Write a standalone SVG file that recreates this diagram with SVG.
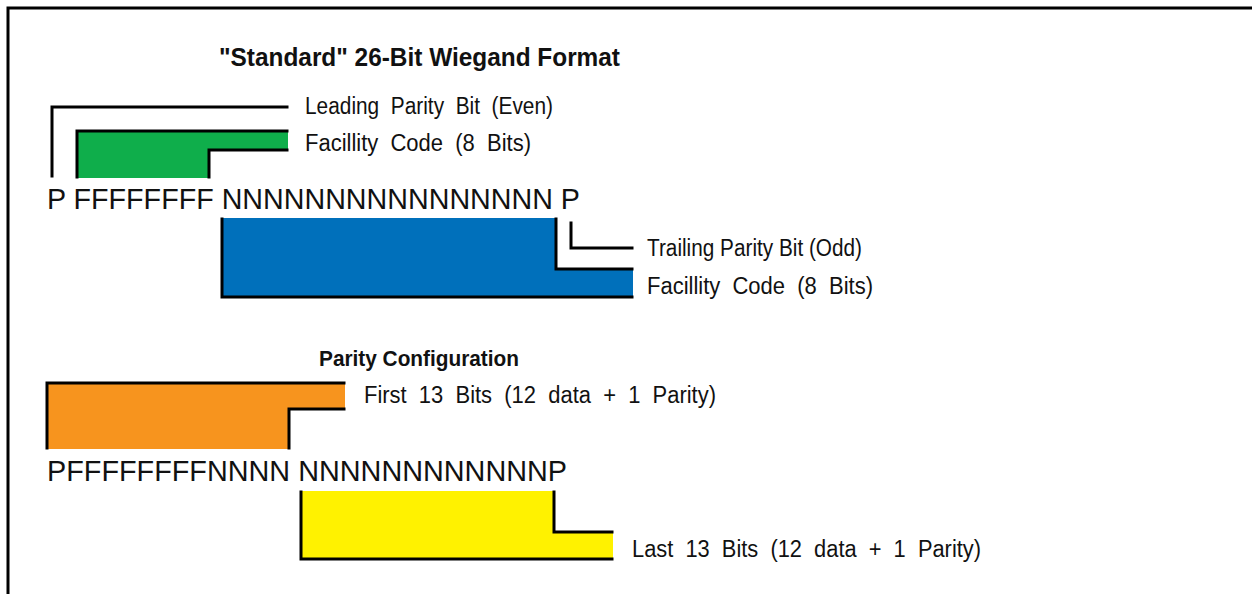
<svg xmlns="http://www.w3.org/2000/svg" width="1252" height="594" viewBox="0 0 1252 594">
<style>
.cond{font-family:"Liberation Sans",Arial,sans-serif;fill:#111;white-space:pre;}
.b{font-weight:bold;}
.bits{font-family:"Liberation Sans",Arial,sans-serif;font-size:29px;fill:#111;white-space:pre;}
.lbl{font-size:23px;}
.ln{fill:none;stroke:#000;stroke-width:3;stroke-linecap:square;}
</style>
<rect x="0" y="0" width="1252" height="594" fill="#fff"/>
<g id="frame"><path class="ln" d="M8,594 V8 H1252"/></g>
<g id="title"><text class="cond b" x="219" y="66" font-size="26" textLength="401" lengthAdjust="spacingAndGlyphs">"Standard" 26-Bit Wiegand Format</text></g>
<g id="leading-parity">
<text class="cond lbl" x="305" y="114" textLength="248" lengthAdjust="spacingAndGlyphs" xml:space="preserve">Leading  Parity  Bit  (Even)</text>
</g>
<g id="facility-green">
<path d="M78,131 H288 V150 H209 V178 H78 Z" fill="#0fae4b"/>
<text class="cond lbl" x="305" y="151" textLength="226" lengthAdjust="spacingAndGlyphs" xml:space="preserve">Facillity  Code  (8  Bits)</text>
</g>
<g id="bits26"><text class="bits" x="47" y="209" textLength="533" lengthAdjust="spacingAndGlyphs">P FFFFFFFF NNNNNNNNNNNNNNNN P</text></g>
<g id="trailing-parity">
<text class="cond lbl" x="647" y="256" textLength="215" lengthAdjust="spacingAndGlyphs">Trailing Parity Bit (Odd)</text>
</g>
<g id="card-blue">
<path d="M222,218 H556 V269 H633 V297 H222 Z" fill="#0070bb"/>
<text class="cond lbl" x="647" y="294" textLength="226" lengthAdjust="spacingAndGlyphs" xml:space="preserve">Facillity  Code  (8  Bits)</text>
</g>
<g id="parity-title"><text class="cond b" x="319" y="366" font-size="22" textLength="200" lengthAdjust="spacingAndGlyphs">Parity Configuration</text></g>
<g id="first13">
<path d="M47,383 H345 V409 H289 V449 H47 Z" fill="#f7941e"/>
<text class="cond lbl" x="364" y="403" textLength="352" lengthAdjust="spacingAndGlyphs" xml:space="preserve">First  13  Bits  (12  data  +  1  Parity)</text>
</g>
<g id="bits-split"><text class="bits" x="47" y="481" textLength="520" lengthAdjust="spacingAndGlyphs">PFFFFFFFFNNNN NNNNNNNNNNNNP</text></g>
<g id="last13">
<path d="M301,491 H554 V532 H613 V559 H301 Z" fill="#fff200"/>
<text class="cond lbl" x="632" y="557" textLength="349" lengthAdjust="spacingAndGlyphs" xml:space="preserve">Last  13  Bits  (12  data  +  1  Parity)</text>
</g>
<g id="connectors">
<path class="ln" d="M52,176 V107 H287"/>
<path class="ln" d="M77,177 V131 H287"/>
<path class="ln" d="M287,150 H209 V177"/>
<path class="ln" d="M222,219 V297 H632"/>
<path class="ln" d="M556,219 V269 H632"/>
<path class="ln" d="M571,223 V248 H632"/>
<path class="ln" d="M47,448 V383 H344"/>
<path class="ln" d="M344,409 H289 V448"/>
<path class="ln" d="M301,492 V559 H612"/>
<path class="ln" d="M554,492 V532 H612"/>
</g>
</svg>
